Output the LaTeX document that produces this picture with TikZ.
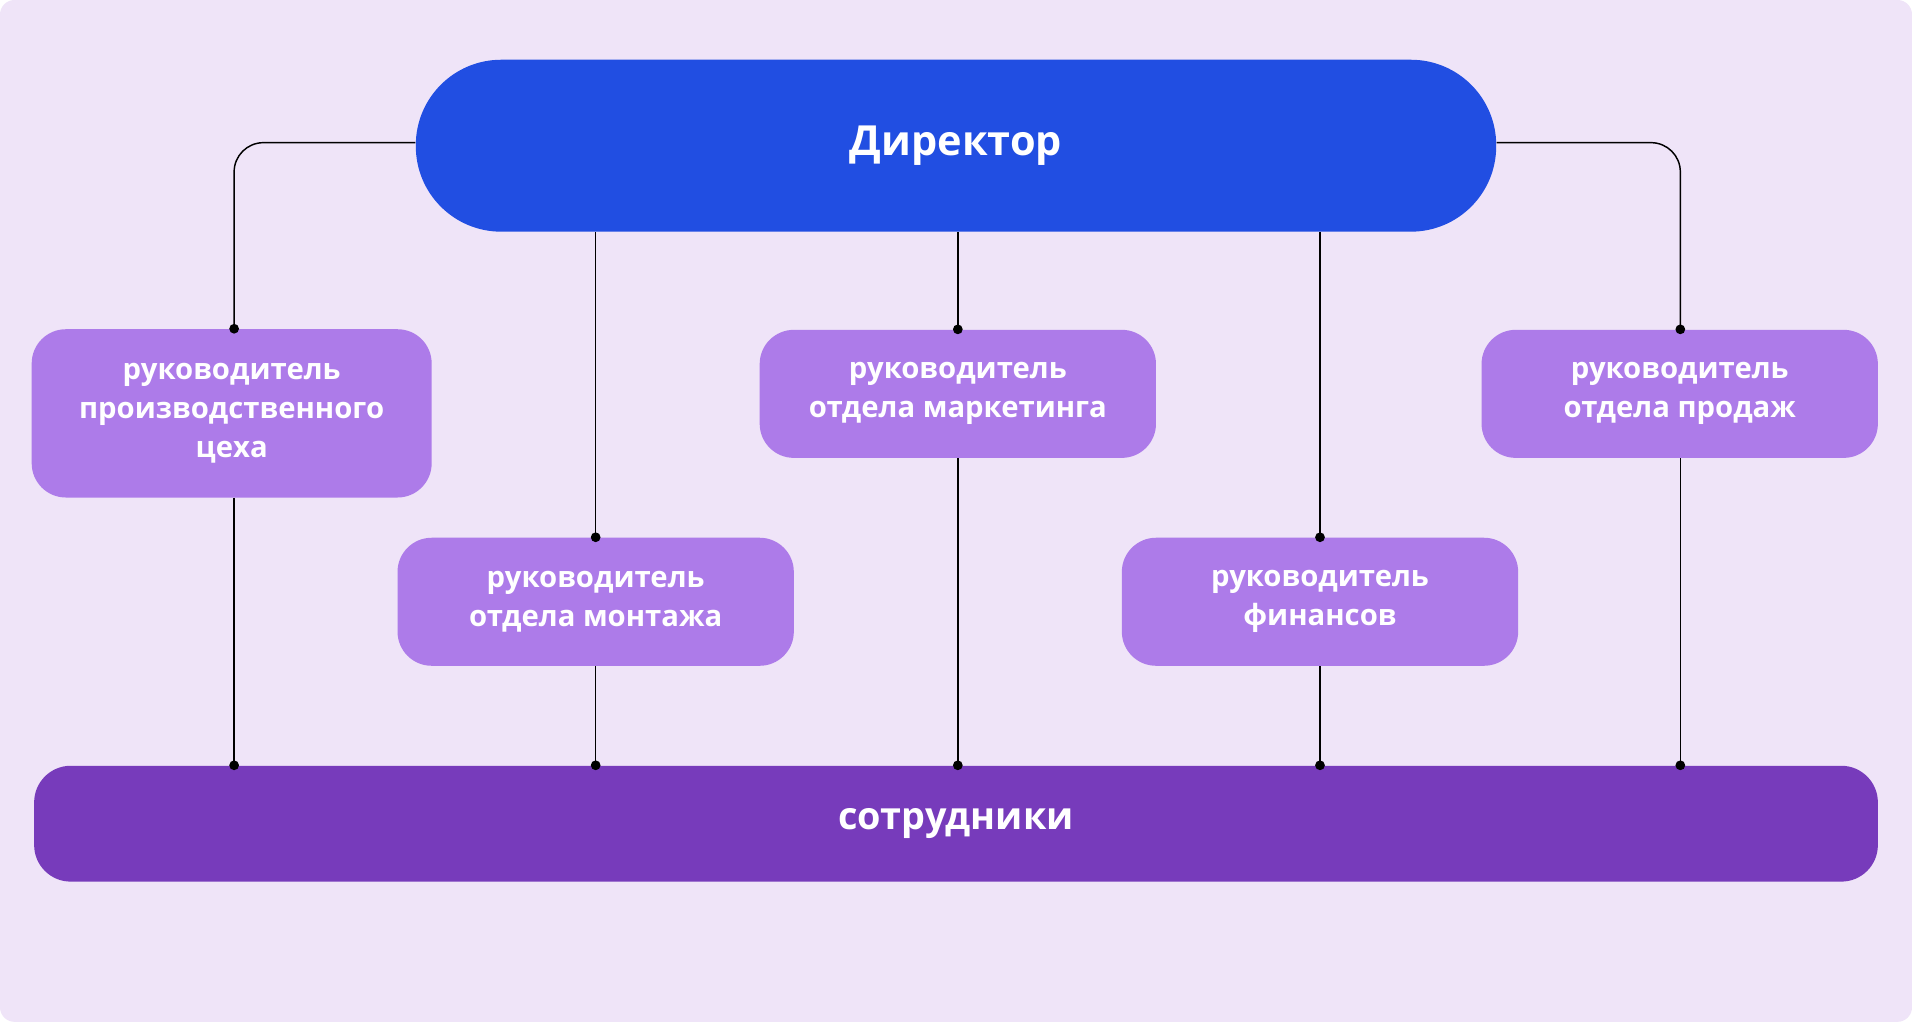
\documentclass[tikz,border=0pt]{standalone}
\usepackage{fontspec}
\setmainfont{Open Sans}
\begin{document}
\begin{tikzpicture}[x=0.5pt,y=-0.5pt,
  mgr/.style={fill=mgrc,rounded corners=14pt,text=white,font=\bfseries\fontsize{12}{16}\selectfont,align=center,inner sep=0pt,minimum width=162.5pt,minimum height=52.5pt},
  ln/.style={draw=black,line width=0.6pt},
  dot/.style={circle,fill=black,inner sep=0pt,minimum size=4pt}]
\definecolor{bg}{HTML}{EFE4F8}
\definecolor{dirc}{HTML}{214EE2}
\definecolor{mgrc}{HTML}{AD7BE9}
\definecolor{empc}{HTML}{773BBB}
\useasboundingbox (0,0) rectangle (1568,838);
\fill[white] (0,0) rectangle (1568,838);
\fill[bg,rounded corners=6pt] (0,0) rectangle (1568,838);
\node[fill=dirc,rounded corners=35pt,text=white,font=\bfseries\fontsize{17}{20}\selectfont,minimum width=443pt,minimum height=70.5pt,inner sep=0pt] (d) at (784,119.5) {Директор};
\node[mgr,minimum width=164pt,minimum height=69pt] (b1) at (190,339) {руководитель\\производственного\\цеха};
\node[mgr] (b2) at (488.5,493.5) {руководитель\\отдела монтажа};
\node[mgr] (b3) at (785.5,323) {руководитель\\отдела маркетинга};
\node[mgr] (b4) at (1082.5,493.5) {руководитель\\финансов};
\node[mgr] (b5) at (1377.5,323) {руководитель\\отдела продаж};
\node[fill=empc,rounded corners=15pt,text=white,font=\bfseries\fontsize{15.5}{18}\selectfont,minimum width=756pt,minimum height=47.5pt,inner sep=0pt] (s) at (784,675.5) {сотрудники};
\coordinate (l1) at (192,117);
\coordinate (r1) at (1378,117);
\draw[ln,rounded corners=12pt] (d.west |- l1) -| (l1 |- b1.north);
\draw[ln,rounded corners=12pt] (d.east |- r1) -| (r1 |- b5.north);
\draw[ln] (d.south -| b2.north) -- (b2.north);
\draw[ln] (d.south -| b3.north) -- (b3.north);
\draw[ln] (d.south -| b4.north) -- (b4.north);
\draw[ln] (l1 |- b1.south) -- (l1 |- s.north);
\draw[ln] (b2.south) -- (b2.south |- s.north);
\draw[ln] (b3.south) -- (b3.south |- s.north);
\draw[ln] (b4.south) -- (b4.south |- s.north);
\draw[ln] (r1 |- b5.south) -- (r1 |- s.north);
\node[dot] (p1) at (l1 |- b1.north) {};
\node[dot] (p2) at (b2.north) {};
\node[dot] (p3) at (b3.north) {};
\node[dot] (p4) at (b4.north) {};
\node[dot] (p5) at (r1 |- b5.north) {};
\node[dot] (q1) at (l1 |- s.north) {};
\node[dot] (q2) at (b2.south |- s.north) {};
\node[dot] (q3) at (b3.south |- s.north) {};
\node[dot] (q4) at (b4.south |- s.north) {};
\node[dot] (q5) at (r1 |- s.north) {};
\end{tikzpicture}
\end{document}
